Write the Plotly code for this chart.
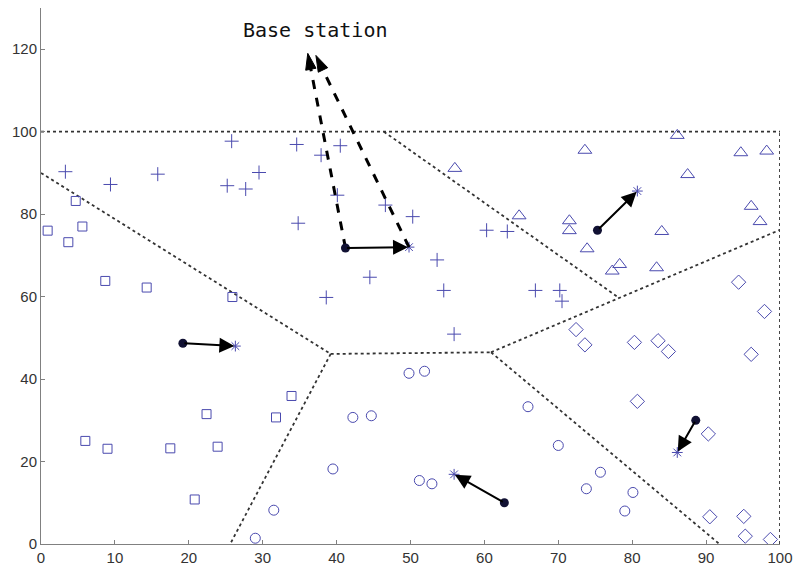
import plotly.graph_objects as go

# ---- data ----
plus_x = [3.3, 9.4, 15.8, 25.8, 25.2, 27.7, 29.5, 34.6, 37.9, 40.5, 40.1, 34.8, 46.6, 44.5, 38.6,
          50.3, 60.3, 63.1, 53.6, 54.5, 66.9, 70.2, 70.5, 55.9]
plus_y = [90.3, 87.2, 89.7, 97.7, 86.9, 86.1, 90.1, 96.9, 94.3, 96.6, 84.6, 77.8, 82.2, 64.7, 59.8,
          79.4, 76.1, 75.8, 68.9, 61.5, 61.5, 61.5, 58.9, 50.9]

tri_x = [56.0, 73.6, 86.1, 94.7, 98.2, 87.5, 96.1, 97.3, 64.7, 71.5, 71.5, 73.9, 84.0, 78.3, 77.3, 83.3]
tri_y = [91.1, 95.5, 99.1, 94.9, 95.3, 89.6, 81.9, 78.2, 79.6, 78.4, 76.0, 71.6, 75.8, 67.8, 66.2, 67.0]

dia_x = [94.4, 97.9, 72.4, 73.6, 80.3, 83.5, 84.9, 96.1, 80.7, 90.3, 90.5, 95.1, 95.3, 98.7]
dia_y = [63.5, 56.4, 52.0, 48.3, 48.9, 49.3, 46.7, 46.0, 34.6, 26.7, 6.6, 6.7, 1.9, 1.1]

circ_x = [49.8, 51.9, 65.9, 70.0, 51.2, 52.9, 75.7, 73.8, 80.1, 79.0, 42.2, 44.7, 39.5, 31.5, 29.0]
circ_y = [41.4, 41.9, 33.3, 23.9, 15.4, 14.6, 17.4, 13.4, 12.5, 8.0, 30.7, 31.1, 18.2, 8.2, 1.4]

sq_x = [6.0, 9.0, 17.5, 22.4, 23.9, 20.8, 31.8, 33.9, 4.7, 0.9, 5.6, 3.7, 8.7, 14.3, 25.9]
sq_y = [25.0, 23.1, 23.2, 31.5, 23.6, 10.8, 30.7, 35.9, 83.2, 76.0, 77.0, 73.2, 63.8, 62.2, 59.9]

# mobile robots (start) and their targets (star)
robot_x = [41.2, 75.3, 19.2, 62.7, 88.6]
robot_y = [71.8, 76.1, 48.7, 10.0, 30.0]
star_x = [49.8, 80.7, 26.3, 55.9, 86.1]
star_y = [72.0, 85.6, 48.0, 16.9, 22.2]

# base station links
bs_label = "Base station"
bs_text_x, bs_text_y = 37.2, 124.6
link_start_x = [41.2, 49.8]
link_start_y = [71.8, 72.0]
link_end_x = [36.1, 37.2]
link_end_y = [119.0, 118.5]

# Voronoi-like boundaries (polylines)
boundaries = [
    ([0, 100], [100, 100]),
    ([100, 100], [0, 100]),
    ([0, 39.2], [90, 46.1]),
    ([39.2, 25.6], [46.1, 0]),
    ([39.2, 60.9], [46.1, 46.5]),
    ([60.9, 100], [46.5, 76.2]),
    ([60.9, 91.8], [46.5, 0]),
    ([46.4, 78.2], [100, 59.7]),
]

x_ticks = [0, 10, 20, 30, 40, 50, 60, 70, 80, 90, 100]
y_ticks = [0, 20, 40, 60, 80, 100, 120]

BLUE = "#4a4aae"

fig = go.Figure()

for bx, by in boundaries:
    fig.add_trace(go.Scatter(x=bx, y=by, mode="lines",
                             line=dict(color="#333333", width=1.8, dash="dot"),
                             hoverinfo="skip"))

def add_pts(xs, ys, symbol, size):
    fig.add_trace(go.Scatter(x=xs, y=ys, mode="markers",
                             marker=dict(symbol=symbol, size=size, color=BLUE,
                                         line=dict(color=BLUE, width=1))))

add_pts(plus_x, plus_y, "cross-thin-open", 10)
add_pts(tri_x, tri_y, "triangle-up-open", 12)
add_pts(dia_x, dia_y, "diamond-open", 11)
add_pts(circ_x, circ_y, "circle-open", 10)
add_pts(sq_x, sq_y, "square-open", 9)
add_pts(star_x, star_y, "asterisk-open", 9)

# dashed links to base station with arrowheads
for sx, sy, ex, ey in zip(link_start_x, link_start_y, link_end_x, link_end_y):
    fig.add_trace(go.Scatter(x=[sx, ex], y=[sy, ey], mode="lines+markers",
                             line=dict(color="black", width=3, dash="dash"),
                             marker=dict(symbol="arrow", size=[0, 17], color="black",
                                         opacity=1, angleref="previous",
                                         line=dict(color="black", width=1)),
                             hoverinfo="skip"))

# robot movement arrows
for rx, ry, sx, sy in zip(robot_x, robot_y, star_x, star_y):
    fig.add_annotation(x=sx, y=sy, ax=rx, ay=ry, xref="x", yref="y", axref="x", ayref="y",
                       showarrow=True, arrowhead=2, arrowsize=1.5, arrowwidth=2,
                       arrowcolor="black", standoff=1, text="")

fig.add_trace(go.Scatter(x=robot_x, y=robot_y, mode="markers",
                         marker=dict(symbol="circle", size=9, color="#111133")))

fig.add_annotation(x=bs_text_x, y=bs_text_y, xref="x", yref="y", text=bs_label,
                   showarrow=False,
                   font=dict(family="DejaVu Sans Mono, Liberation Mono, monospace",
                             size=20, color="#111111"))

axis_common = dict(showgrid=False, zeroline=False, showline=True, linecolor="#808080",
                   linewidth=1, ticks="inside", ticklen=4, tickcolor="#808080",
                   tickfont=dict(family="Liberation Sans, Arial, sans-serif", size=15,
                                 color="#333333"))

fig.update_layout(
    width=801, height=574,
    margin=dict(l=41, r=14, t=8, b=26),
    paper_bgcolor="white", plot_bgcolor="white",
    showlegend=False,
    xaxis=dict(range=[0, 100], tickvals=x_ticks, **axis_common),
    yaxis=dict(range=[0, 130], tickvals=y_ticks, **axis_common),
)

fig.write_html("out.html")
